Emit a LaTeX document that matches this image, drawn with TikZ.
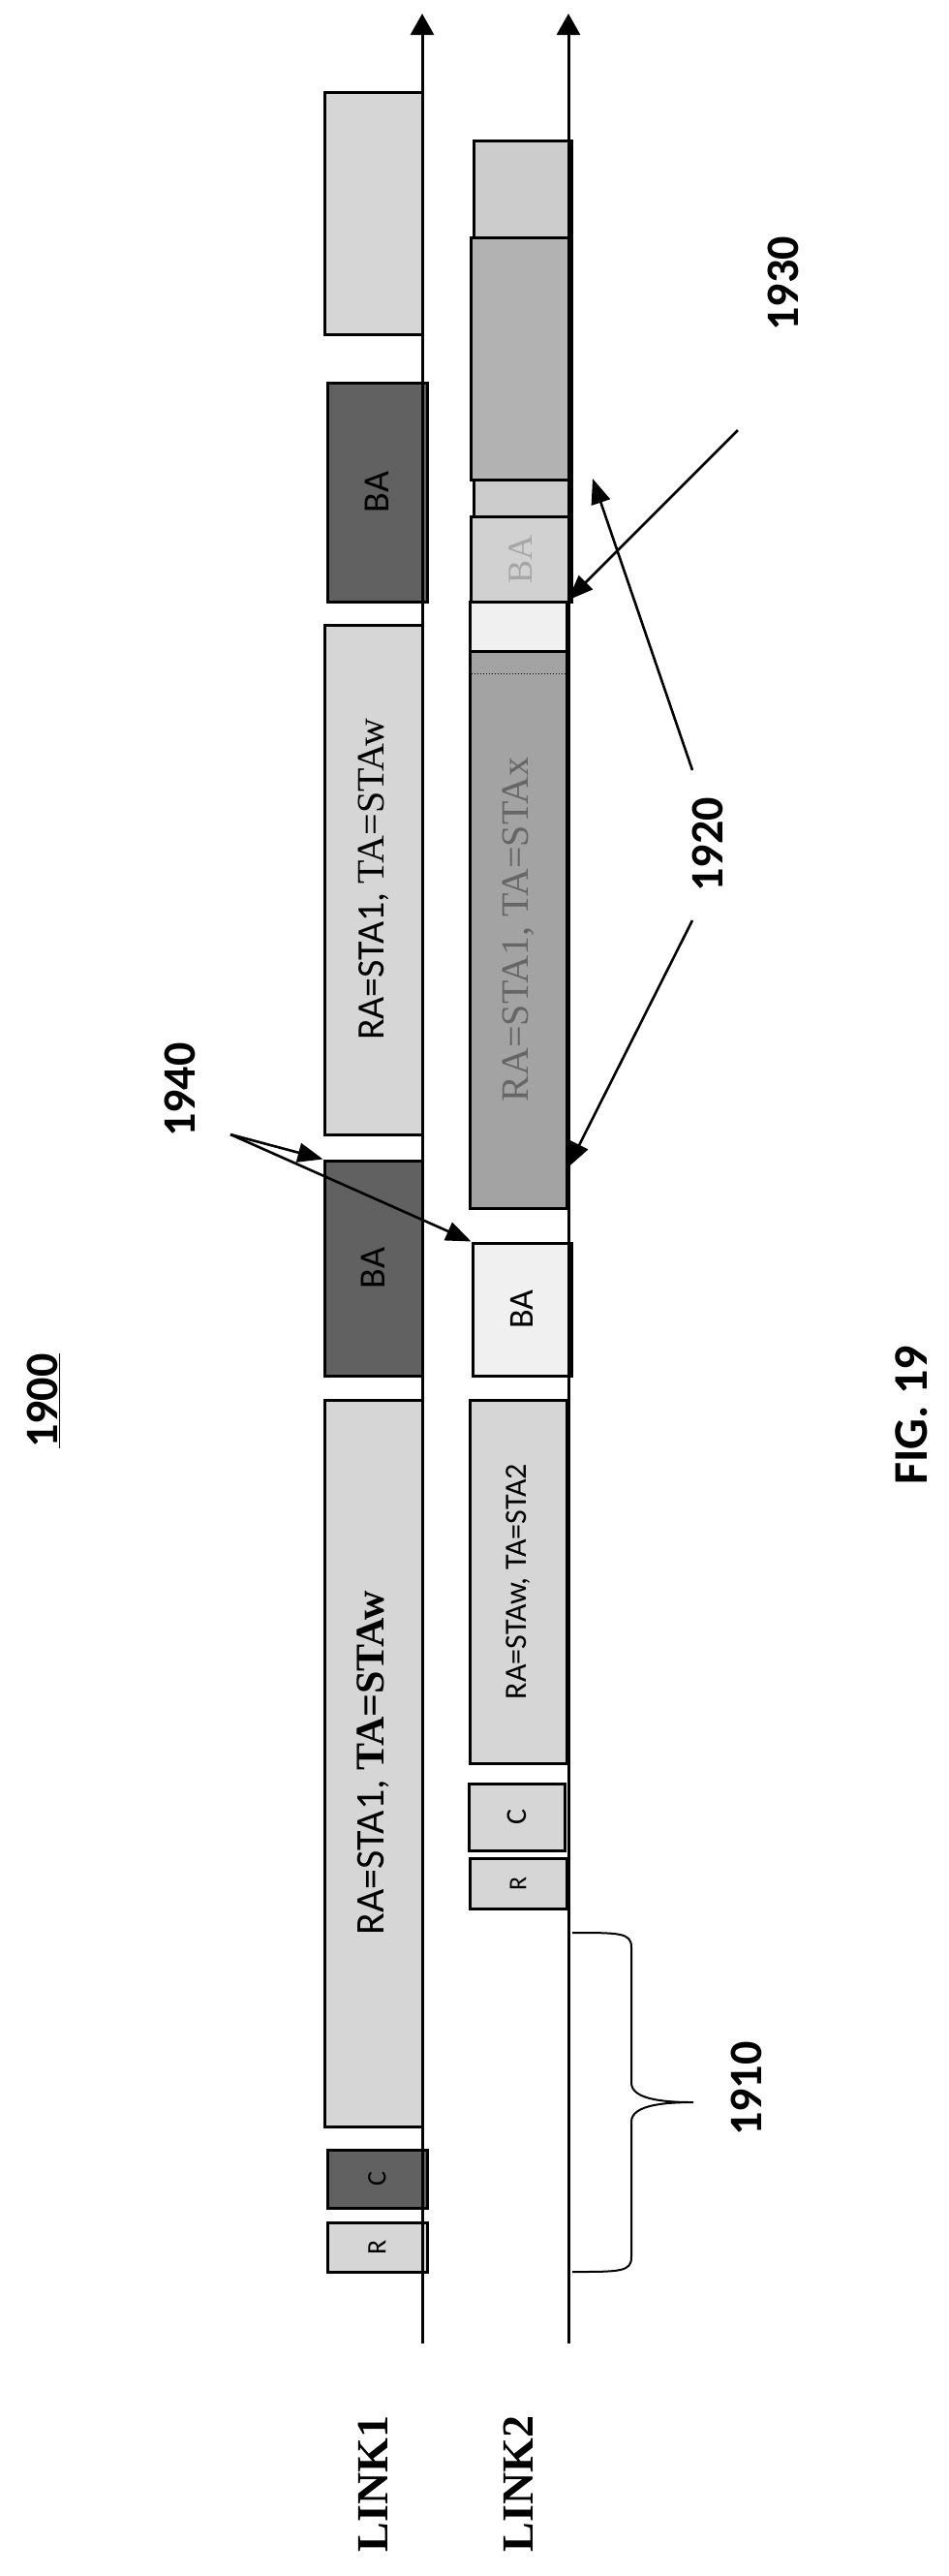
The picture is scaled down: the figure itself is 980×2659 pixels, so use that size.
\documentclass[tikz,border=0pt]{standalone}
\usepackage{fontspec}
\setmainfont{Carlito}
\newfontfamily\timesfont{Liberation Serif}
\usetikzlibrary{arrows.meta}

\begin{document}
\begin{tikzpicture}[x=1pt,y=-1pt,
  frame/.style={draw=black,line width=3pt,inner sep=0pt},
  light/.style={frame,fill=black!16},
  dark/.style={frame,fill=black!62},
  mid/.style={frame,fill=black!20},
  pale/.style={frame,fill=black!6},
  axis/.style={line width=3pt,-{Triangle[length=22pt,width=24pt]}},
  pointer/.style={line width=2.6pt,-{Triangle[length=26pt,width=20pt]}},
  numlabel/.style={font=\bfseries\fontsize{48}{50}\selectfont,rotate=90},
  divider/.style={line width=1pt,dotted}]
\useasboundingbox (0,0) rectangle (980,2659);

% boxes on LINK1
\node[light] (l1top) at (385.5,220) [minimum width=101pt,minimum height=250pt] {};
\node[dark] (l1ba1) at (389.5,508) [minimum width=103pt,minimum height=226pt] {\rotatebox{90}{\fontsize{38}{38}\selectfont BA}};
\node[light] (l1ra1) at (385.5,908) [minimum width=101pt,minimum height=526pt] {\rotatebox{90}{\fontsize{40}{40}\selectfont RA=STA1, {\timesfont TA=STAw}}};
\node[dark] (l1ba2) at (385.5,1309) [minimum width=101pt,minimum height=222pt] {\rotatebox{90}{\fontsize{38}{38}\selectfont BA}};
\node[light] (l1ra2) at (385.5,1820) [minimum width=101pt,minimum height=750pt] {\rotatebox{90}{\fontsize{42}{42}\selectfont RA=STA1, {\timesfont\bfseries TA=STAw}}};
\node[dark] (l1c) at (389.5,2249) [minimum width=103pt,minimum height=60pt] {\rotatebox{90}{\fontsize{28}{28}\selectfont C}};
\node[light] (l1r) at (389.5,2319.5) [minimum width=103pt,minimum height=51pt] {\rotatebox{90}{\fontsize{28}{28}\selectfont R}};

% boxes on LINK2
\node[mid] (l2top) at (539.5,383) [minimum width=101pt,minimum height=476pt] {};
\node[frame,fill=black!30] (l2mid) at (538,370) [minimum width=104pt,minimum height=250pt] {};
\node[frame,fill=black!18] (l2ba0) at (538,577) [minimum width=104pt,minimum height=88pt] {\rotatebox{90}{\timesfont\fontsize{36}{36}\selectfont\color{black!35}BA}};
\draw[divider] (l2top.north west |- 0,245) -- (l2top.north east |- 0,245);
\draw[divider] (l2top.north west |- 0,533) -- (l2top.north east |- 0,533);
\node[pale] (l2gap) at (535,646.5) [minimum width=100pt,minimum height=51pt] {};
\node[frame,fill=black!36] (l2rax) at (535,959.5) [minimum width=100pt,minimum height=575pt] {\rotatebox{90}{\timesfont\fontsize{40}{40}\selectfont\color{black!60}RA=STA1, TA=STAx}};
\draw[divider] (l2rax.north west |- 0,695) -- (l2rax.north east |- 0,695);
\node[pale] (l2ba) at (539,1351.5) [minimum width=102pt,minimum height=137pt] {\rotatebox{90}{\fontsize{36}{36}\selectfont BA}};
\node[light] (l2ra) at (535,1632.5) [minimum width=100pt,minimum height=375pt] {\rotatebox{90}{\fontsize{32}{32}\selectfont RA=STAw, TA=STA2}};
\node[light] (l2c) at (533.5,1875.5) [minimum width=99pt,minimum height=69pt] {\rotatebox{90}{\fontsize{30}{30}\selectfont C}};
\node[light] (l2r) at (535,1944) [minimum width=100pt,minimum height=52pt] {\rotatebox{90}{\fontsize{26}{26}\selectfont R}};

% time axes
\coordinate (a1s) at (436,2419);
\coordinate (a1e) at (436,14);
\coordinate (a2s) at (587,2419);
\coordinate (a2e) at (587,14);
\draw[axis] (a1s) -- (a1e);
\draw[axis] (a2s) -- (a2e);

% link names
\node[rotate=90,font=\timesfont\bfseries\fontsize{46}{46}\selectfont] (link1) at (385,2564) {LINK1};
\node[rotate=90,font=\timesfont\bfseries\fontsize{46}{46}\selectfont] (link2) at (535,2564) {LINK2};

% reference numerals
\node[numlabel] (n1900) at (45,1446) {\underline{1900}};
\node[numlabel] (n1940) at (186,1125) {1940};
\node[numlabel] (n1920) at (731,872) {1920};
\node[numlabel] (n1930) at (809,293) {1930};
\node[numlabel] (n1910) at (771,2156) {1910};
\node[rotate=90,font=\bfseries\fontsize{50}{50}\selectfont] (fig) at (941,1461) {FIG. 19};

% pointers
\coordinate (p1940) at (238,1171);
\draw[pointer] (p1940) -- (l1ba2.north west);
\draw[pointer] (p1940) -- (l2ba.north west);
\coordinate (p1920a) at (715,795);
\coordinate (p1920b) at (715,950);
\coordinate (t1920a) at (612,494);
\draw[pointer] (p1920a) -- (t1920a);
\draw[pointer] (p1920b) -- (l2rax.east |- 0,1205);
\coordinate (p1930) at (762,444);
\draw[pointer] (p1930) -- (l2gap.north east);

% brace
\coordinate (b1) at (591,1995);
\coordinate (b2) at (591,2345);
\coordinate (btip) at (716,2170);
\draw[line width=2pt] (b1) .. controls (640,1995) and (652,1995) .. (652,2010)
  -- (652,2150) .. controls (652,2168) and (690,2170) .. (btip)
  (btip) .. controls (690,2170) and (652,2172) .. (652,2190)
  -- (652,2330) .. controls (652,2345) and (640,2345) .. (b2);
\end{tikzpicture}
\end{document}
